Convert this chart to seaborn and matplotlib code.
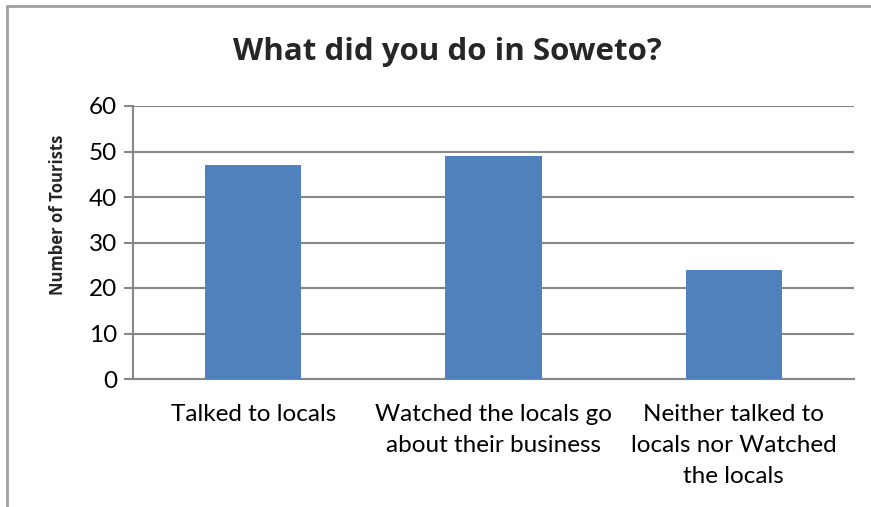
import matplotlib
matplotlib.use("Agg")
import matplotlib.pyplot as plt
from matplotlib.lines import Line2D
import seaborn as sns
import pandas as pd

# Survey responses
categories = [
    "Talked to locals",
    "Watched the locals go\nabout their business",
    "Neither talked to\nlocals nor Watched\nthe locals",
]
tourists = [47, 49, 24]
y_ticks = [0, 10, 20, 30, 40, 50, 60]

df = pd.DataFrame({"activity": categories, "tourists": tourists})

sns.set_theme(style="white")
plt.rcParams["font.family"] = ["Lato", "DejaVu Sans"]

grid_col = "#868686"
bar_col = "#4F81BD"

fig = plt.figure(figsize=(8.71, 5.07), dpi=100)
ax = fig.add_axes([133 / 871, 1 - 379 / 507, (854 - 133) / 871, (379 - 106) / 507])

sns.barplot(data=df, x="activity", y="tourists", color=bar_col, width=0.4,
            saturation=1, linewidth=0, ax=ax, zorder=3)

ax.set_ylim(0, 60)
ax.set_xlim(-0.5, 2.5)
ax.set_yticks(y_ticks)
ax.set_yticklabels([str(v) for v in y_ticks])
ax.yaxis.grid(True, color=grid_col, linewidth=1.5, zorder=0)
ax.set_axisbelow(True)

for side in ("top", "right"):
    ax.spines[side].set_visible(False)
for side in ("left", "bottom"):
    ax.spines[side].set_color(grid_col)
    ax.spines[side].set_linewidth(1.5)

ax.tick_params(axis="y", which="both", left=True, length=6.5, width=1.5,
               color=grid_col, labelsize=17.5, pad=5, labelcolor="black")
ax.tick_params(axis="x", bottom=False, labelsize=17.5, pad=12, labelcolor="black")
for lbl in ax.get_xticklabels():
    lbl.set_linespacing(1.6)

ax.set_xlabel("")
ax.set_ylabel("Number of Tourists", fontsize=12, fontweight="bold",
              family=["Open Sans", "DejaVu Sans"])
ax.yaxis.set_label_coords(-0.092, 0.60)

fig.text(447 / 871, 1 - 52 / 507, "What did you do in Soweto?", ha="center",
         va="center", fontsize=22.5, fontweight="bold",
         family=["Open Sans", "DejaVu Sans"])

# Chart frame along left and top edges
border = "#A0A0A0"
fig.add_artist(Line2D([7 / 871, 7 / 871], [0, 1 - 6 / 507], transform=fig.transFigure,
                      color=border, linewidth=2))
fig.add_artist(Line2D([7 / 871, 1], [1 - 6 / 507, 1 - 6 / 507], transform=fig.transFigure,
                      color=border, linewidth=2))

fig.savefig("out.png", dpi=100, facecolor="white")
